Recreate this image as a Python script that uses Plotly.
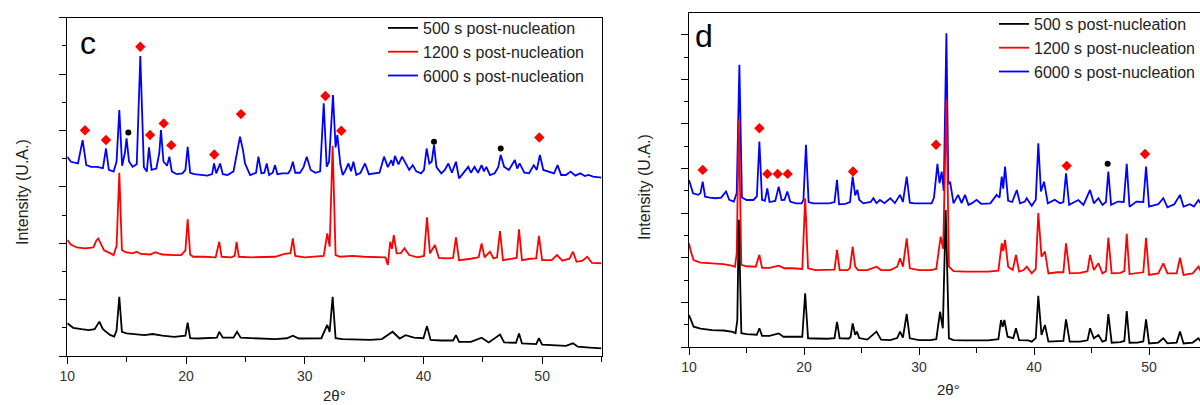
import plotly.graph_objects as go

# ---------------- Panel c data (2θ, intensity in arbitrary units) ----------------
c500_x = [10.0, 10.5, 11.2, 11.8, 12.3, 12.7, 13.0, 13.6, 13.95, 14.15, 14.38, 14.6, 15.0, 15.8, 16.5, 17.2, 18.0, 19.0,
          19.95, 20.14, 20.35, 21.0, 22.0, 22.6, 22.8, 23.1, 24.0, 24.3, 24.6, 25.5, 26.5, 27.5, 28.5, 29.0, 29.5, 30.5,
          31.4, 31.9, 32.1, 32.35, 32.6, 33.2, 34.5, 35.5, 36.5, 37.4, 38.0, 38.5, 39.2, 40.0, 40.3, 40.6, 41.5, 42.5,
          42.74, 43.0, 44.0, 44.9, 45.5, 46.45, 46.8, 47.8, 48.05, 48.3, 49.5, 49.73, 50.0, 51.0, 52.0, 52.6, 53.0,
          54.0, 55.0]
c500_y = [1.16, 1.0, 0.95, 0.92, 0.95, 1.22, 0.95, 0.75, 0.69, 0.9, 2.10, 0.86, 0.80, 0.76, 0.74, 0.78, 0.72, 0.68,
          0.72, 1.18, 0.63, 0.62, 0.63, 0.65, 0.86, 0.65, 0.65, 0.86, 0.65, 0.63, 0.62, 0.60, 0.63, 0.72, 0.62, 0.62,
          0.63, 1.10, 0.85, 2.10, 0.63, 0.60, 0.57, 0.57, 0.60, 0.86, 0.62, 0.74, 0.65, 0.63, 1.06, 0.57, 0.55, 0.55,
          0.74, 0.50, 0.50, 0.65, 0.48, 0.76, 0.48, 0.47, 0.80, 0.45, 0.42, 0.63, 0.40, 0.38, 0.36, 0.45, 0.33,
          0.30, 0.27]

c1200_x = [10.0, 10.3, 10.8, 11.5, 12.2, 12.45, 12.61, 12.8, 13.1, 13.6, 13.9, 14.15, 14.38, 14.6, 14.9, 15.5, 15.85,
           16.2, 17.0, 17.4, 18.0, 19.0, 19.6, 19.95, 20.14, 20.35, 20.6, 21.5, 22.5, 22.8, 23.0, 23.8, 24.1, 24.26,
           24.45, 25.5, 26.5, 27.5, 28.3, 28.8, 29.0, 29.2, 30.0, 31.0, 31.6, 31.9, 32.1, 32.35, 32.6, 33.0, 34.0,
           35.0, 36.0, 36.8, 37.0, 37.2, 37.35, 37.5, 37.75, 38.1, 38.4, 38.8, 39.5, 40.05, 40.3, 40.55, 40.97, 41.3,
           42.0, 42.5, 42.74, 43.0, 44.0, 44.65, 44.9, 45.15, 45.6, 45.9, 46.2, 46.45, 46.7, 47.5, 47.85, 48.05,
           48.3, 49.0, 49.5, 49.73, 50.0, 50.8, 51.25, 51.7, 52.3, 52.6, 52.9, 53.4, 53.8, 54.2, 55.0]
c1200_y = [4.11, 3.95, 3.85, 3.82, 3.85, 4.10, 4.17, 4.00, 3.75, 3.65, 3.58, 3.90, 6.50, 3.76, 3.68, 3.64, 3.70,
           3.62, 3.60, 3.68, 3.60, 3.58, 3.58, 3.75, 4.85, 3.60, 3.52, 3.52, 3.50, 4.05, 3.52, 3.50, 3.55, 4.05,
           3.52, 3.50, 3.52, 3.52, 3.62, 3.65, 4.17, 3.55, 3.50, 3.52, 3.55, 4.35, 3.88, 7.45, 3.58, 3.52, 3.55,
           3.52, 3.52, 3.50, 3.23, 4.05, 3.80, 4.29, 3.64, 3.65, 3.82, 3.58, 3.50, 3.55, 4.92, 3.64, 3.94, 3.48,
           3.46, 3.48, 4.21, 3.40, 3.45, 3.50, 3.99, 3.50, 3.70, 3.46, 3.50, 4.43, 3.40, 3.45, 3.48, 4.49,
           3.40, 3.45, 3.46, 4.26, 3.40, 3.40, 3.58, 3.38, 3.45, 3.70, 3.34, 3.38, 3.52, 3.30, 3.29]

c6000_x = [10.0, 10.3, 10.9, 11.29, 11.6, 12.0, 12.5, 13.0, 13.26, 13.5, 13.9, 14.15, 14.38, 14.62, 14.85, 14.99, 15.2,
           15.5, 15.85, 16.15, 16.45, 16.7, 16.88, 17.1, 17.5, 17.75, 17.89, 18.1, 18.4, 18.6, 18.8, 19.2, 19.7,
           19.95, 20.14, 20.35, 20.7, 21.2, 21.8, 22.2, 22.36, 22.55, 22.87, 23.1, 23.5, 24.0, 24.3, 24.55, 24.8,
           24.97, 25.4, 25.9, 26.1, 26.35, 26.6, 26.8, 27.0, 27.3, 27.5, 27.7, 28.1, 28.6, 28.8, 29.0, 29.2, 29.6,
           29.9, 30.17, 30.5, 30.9, 31.3, 31.6, 31.85, 32.05, 32.38, 32.6, 32.75, 33.0, 33.2, 33.45, 33.68, 33.9,
           34.1, 34.35, 34.7, 35.08, 35.4, 35.8, 36.3, 36.68, 37.0, 37.3, 37.45, 37.6, 37.9, 38.2, 38.5, 38.8, 39.1,
           39.4, 39.8, 40.05, 40.27, 40.5, 40.7, 40.89, 41.1, 41.5, 41.8, 42.1, 42.4, 42.74, 43.0, 43.4, 43.78,
           44.0, 44.3, 44.6, 44.9, 45.1, 45.3, 45.6, 46.0, 46.3, 46.51, 46.8, 47.2, 47.7, 47.9, 48.1, 48.5, 48.9,
           49.3, 49.55, 49.81, 50.1, 50.6, 51.0, 51.3, 51.6, 52.0, 52.4, 52.8, 53.2, 53.6, 53.9, 54.3, 55.0]
c6000_y = [7.07, 6.89, 6.83, 7.66, 6.77, 6.71, 6.71, 6.66, 7.36, 6.60, 6.54, 6.90, 8.72, 6.75, 7.20, 7.72, 6.90,
           6.71, 6.80, 10.64, 6.70, 6.54, 7.40, 6.60, 6.65, 7.20, 8.01, 6.90, 6.75, 7.07, 6.55, 6.45, 6.48,
           6.60, 7.42, 6.50, 6.45, 6.42, 6.40, 6.45, 6.83, 6.48, 6.83, 6.45, 6.42, 6.55, 7.20, 7.78, 7.30,
           6.83, 6.42, 6.50, 7.07, 6.48, 6.50, 6.83, 6.42, 6.50, 6.77, 6.45, 6.48, 6.48, 6.60, 6.89, 6.50, 6.50,
           6.70, 7.07, 6.60, 6.50, 6.55, 8.96, 6.71, 6.90, 9.26, 7.40, 7.84, 6.80, 6.42, 6.60, 6.83, 6.55,
           6.89, 6.42, 6.50, 6.83, 6.45, 6.48, 6.50, 7.07, 6.70, 6.95, 6.75, 7.10, 6.80, 7.07, 6.83, 6.60, 6.77,
           6.55, 6.48, 6.60, 7.36, 6.83, 6.90, 7.48, 6.70, 6.48, 6.60, 6.83, 6.50, 6.89, 6.30, 6.50, 6.71,
           6.50, 6.71, 6.50, 6.77, 6.55, 6.71, 6.42, 6.48, 6.70, 7.13, 6.71, 6.60, 6.95, 6.65, 6.83, 6.50, 6.48,
           6.77, 6.60, 7.13, 6.60, 6.54, 6.48, 6.77, 6.42, 6.42, 6.54, 6.40, 6.48, 6.38, 6.42, 6.36, 6.33]

c_diamond_x = [11.49, 13.26, 16.15, 16.97, 18.12, 18.76, 22.38, 24.63, 31.74, 33.08, 49.76]
c_diamond_y = [8.01, 7.66, 10.97, 7.84, 8.25, 7.48, 7.15, 8.58, 9.22, 7.99, 7.75]
c_dot_x = [15.14, 40.89, 46.51]
c_dot_y = [7.93, 7.60, 7.36]

# ---------------- Panel d data ----------------
d500_x = [10.0, 10.15, 10.4, 11.0, 12.0, 13.0, 13.8, 14.05, 14.2, 14.33, 14.55, 15.0, 15.9, 16.12, 16.35, 17.0, 17.8,
          18.2, 19.0, 19.85, 20.1, 20.35, 21.0, 22.0, 22.65, 22.87, 23.1, 23.9, 24.05, 24.23, 24.45, 24.6, 24.8,
          25.5, 26.3, 26.7, 27.5, 28.1, 28.35, 28.6, 28.93, 29.2, 30.0, 31.0, 31.5, 31.83, 32.07, 32.32, 32.6,
          33.0, 34.0, 35.0, 36.0, 36.9, 37.13, 37.28, 37.42, 37.7, 38.2, 38.43, 38.7, 39.5, 39.8, 40.15, 40.37,
          40.65, 40.95, 41.25, 42.0, 42.55, 42.78, 43.1, 44.0, 44.65, 44.87, 45.2, 45.6, 45.95, 46.25, 46.46,
          46.75, 47.5, 47.85, 48.06, 48.3, 49.0, 49.5, 49.74, 50.0, 50.8, 51.24, 51.6, 52.4, 52.69, 53.0, 53.8,
          54.29, 54.6, 55.0]
d500_y = [1.43, 1.20, 0.91, 0.82, 0.76, 0.74, 0.68, 0.62, 1.20, 5.70, 0.62, 0.58, 0.55, 0.84, 0.50, 0.50, 0.61,
          0.46, 0.45, 0.46, 2.41, 0.39, 0.38, 0.37, 0.40, 1.13, 0.39, 0.38, 0.45, 1.06, 0.55, 0.69, 0.40,
          0.33, 0.69, 0.33, 0.31, 0.40, 0.69, 0.42, 1.48, 0.39, 0.31, 0.31, 0.35, 1.58, 0.84, 6.14, 0.39,
          0.31, 0.30, 0.30, 0.30, 0.35, 1.21, 0.90, 1.21, 0.46, 0.40, 0.84, 0.31, 0.30, 0.24, 0.40, 2.29,
          0.54, 0.99, 0.24, 0.25, 0.27, 1.24, 0.24, 0.24, 0.30, 0.84, 0.39, 0.54, 0.24, 0.30, 1.48,
          0.19, 0.22, 0.27, 1.61, 0.19, 0.20, 0.25, 1.24, 0.16, 0.20, 0.39, 0.16, 0.20, 0.69, 0.16, 0.20,
          0.39, 0.18, 0.15]

d1200_x = [10.0, 10.15, 10.4, 11.0, 12.0, 13.0, 13.7, 14.0, 14.15, 14.33, 14.55, 15.0, 15.8, 16.12, 16.35, 17.0, 17.8,
           18.3, 19.0, 19.85, 20.1, 20.35, 21.0, 22.0, 22.65, 22.87, 23.1, 23.8, 24.0, 24.23, 24.45, 24.7, 25.5,
           26.3, 26.7, 27.5, 28.1, 28.35, 28.6, 28.93, 29.2, 30.0, 31.0, 31.5, 31.88, 32.1, 32.38, 32.6, 33.0,
           34.0, 35.0, 36.0, 36.9, 37.19, 37.32, 37.48, 37.75, 38.15, 38.43, 38.7, 39.1, 39.36, 39.8, 40.15,
           40.37, 40.65, 40.95, 41.25, 42.0, 42.55, 42.78, 43.1, 44.0, 44.65, 44.87, 45.2, 45.6, 45.95, 46.25,
           46.46, 46.75, 47.5, 47.85, 48.06, 48.3, 49.0, 49.5, 49.74, 50.0, 50.8, 51.24, 51.6, 52.4, 52.69,
           53.0, 53.8, 54.29, 54.6, 55.0]
d1200_y = [4.65, 4.30, 3.90, 3.78, 3.75, 3.72, 3.65, 3.60, 4.20, 10.18, 3.68, 3.62, 3.60, 4.13, 3.55, 3.55, 3.65,
           3.53, 3.53, 3.50, 6.67, 3.53, 3.45, 3.45, 3.47, 4.35, 3.45, 3.45, 3.55, 4.50, 3.60, 3.45, 3.45,
           3.60, 3.45, 3.45, 3.60, 3.98, 3.60, 4.87, 3.53, 3.45, 3.45, 3.50, 4.95, 4.40, 11.08, 3.60, 3.40,
           3.38, 3.38, 3.38, 3.42, 4.65, 4.30, 4.80, 3.60, 3.45, 4.13, 3.38, 3.45, 3.60, 3.30, 3.50,
           6.00, 4.05, 4.28, 3.30, 3.35, 3.35, 4.65, 3.30, 3.32, 3.40, 4.13, 3.45, 3.75, 3.30, 3.40,
           4.90, 3.30, 3.32, 3.40, 5.07, 3.27, 3.30, 3.35, 4.90, 3.23, 3.30, 3.75, 3.30, 3.30, 4.00,
           3.23, 3.30, 3.60, 3.30, 3.25]

d6000_x = [10.0, 10.1, 10.35, 10.8, 11.0, 11.19, 11.4, 11.8, 12.3, 12.8, 13.22, 13.5, 13.9, 14.15, 14.38, 14.6, 15.0,
           15.6, 15.9, 16.12, 16.35, 16.6, 16.81, 17.0, 17.5, 17.8, 18.05, 18.3, 18.55, 18.8, 19.3, 19.8, 19.95,
           20.17, 20.4, 20.8, 21.5, 22.2, 22.65, 22.87, 23.05, 23.6, 24.0, 24.23, 24.45, 24.64, 24.8, 25.15,
           25.8, 26.03, 26.3, 26.6, 27.0, 27.5, 27.9, 28.35, 28.6, 28.93, 29.2, 29.6, 30.5, 31.1, 31.3, 31.6,
           31.78, 31.97, 32.15, 32.38, 32.55, 32.7, 33.0, 33.4, 33.7, 34.0, 34.3, 34.6, 35.0, 35.4, 36.2, 36.75,
           37.0, 37.19, 37.32, 37.48, 37.75, 38.1, 38.5, 38.78, 39.2, 39.36, 39.8, 40.15, 40.37, 40.6, 40.87,
           41.2, 41.8, 42.26, 42.55, 42.78, 43.05, 43.85, 44.3, 44.87, 45.2, 45.6, 45.95, 46.25, 46.46, 46.7,
           47.3, 47.8, 48.06, 48.3, 48.9, 49.5, 49.74, 50.0, 50.8, 51.24, 51.6, 52.2, 52.69, 53.0, 53.56, 53.9,
           54.29, 54.6, 55.0]
d6000_y = [7.49, 7.30, 6.89, 6.82, 6.90, 7.41, 6.74, 6.70, 6.67, 6.70, 6.97, 6.60, 6.52, 6.90, 12.65, 6.70, 6.59,
           6.59, 6.75, 9.21, 6.60, 6.55, 7.11, 6.50, 6.55, 7.19, 6.59, 6.60, 6.97, 6.52, 6.44, 6.44, 6.60,
           9.06, 6.50, 6.44, 6.44, 6.44, 6.50, 7.49, 6.40, 6.42, 6.50, 7.64, 6.80, 7.04, 6.60, 6.44,
           6.50, 6.67, 6.45, 6.59, 6.45, 6.67, 6.45, 6.82, 6.50, 7.64, 6.47, 6.44, 6.44, 6.44, 6.70, 8.21,
           7.34, 7.86, 7.00, 14.07, 7.30, 7.41, 6.44, 6.82, 6.45, 6.82, 6.37, 6.45, 6.60, 6.42, 6.44, 6.82,
           6.70, 7.64, 7.10, 8.09, 6.55, 6.50, 7.04, 6.44, 6.52, 6.67, 6.33, 6.60, 9.13, 6.97, 7.41,
           6.44, 6.60, 6.44, 6.50, 7.79, 6.37, 6.59, 6.37, 7.04, 6.44, 6.67, 6.37, 6.50, 7.86, 6.37,
           6.52, 6.50, 8.21, 6.29, 6.52, 6.50, 8.09, 6.29, 6.40, 6.67, 6.26, 6.40, 6.82, 6.29, 6.40, 6.30,
           6.59, 6.35, 6.30]

d_diamond_x = [11.19, 16.12, 16.81, 17.71, 18.58, 24.26, 31.48, 42.84, 49.65]
d_diamond_y = [7.94, 9.81, 7.76, 7.76, 7.76, 7.87, 9.07, 8.12, 8.65]
d_dot_x = [46.40]
d_dot_y = [8.21]

series_names = ["500 s post-nucleation", "1200 s post-nucleation", "6000 s post-nucleation"]
series_colors = ["#000000", "#ff0000", "#0000ff"]

FONT = "Arial, Liberation Sans, sans-serif"
W, H = 1200, 405

fig = go.Figure()

panels = [
    ("x", "y", "legend", [(c500_x, c500_y), (c1200_x, c1200_y), (c6000_x, c6000_y)],
     (c_diamond_x, c_diamond_y), (c_dot_x, c_dot_y)),
    ("x2", "y2", "legend2", [(d500_x, d500_y), (d1200_x, d1200_y), (d6000_x, d6000_y)],
     (d_diamond_x, d_diamond_y), (d_dot_x, d_dot_y)),
]

for xa, ya, leg, series, dia, dot in panels:
    # draw blue first, then red, then black on top
    for i in [2, 1, 0]:
        sx, sy = series[i]
        fig.add_trace(go.Scatter(
            x=sx, y=sy, mode="lines", name=series_names[i],
            line=dict(color=series_colors[i], width=1.8),
            xaxis=xa, yaxis=ya, legend=leg, showlegend=True, hoverinfo="skip"))
    fig.add_trace(go.Scatter(
        x=dia[0], y=dia[1], mode="markers",
        marker=dict(symbol="diamond", size=8, color="#ff0000", line=dict(width=0)),
        xaxis=xa, yaxis=ya, showlegend=False, hoverinfo="skip"))
    fig.add_trace(go.Scatter(
        x=dot[0], y=dot[1], mode="markers",
        marker=dict(symbol="circle", size=6, color="#000000", line=dict(width=0)),
        xaxis=xa, yaxis=ya, showlegend=False, hoverinfo="skip"))


def px_x(p):
    return p / W


def px_y(p):
    return 1 - p / H


xcommon = dict(
    showline=True, linecolor="black", linewidth=1.3, mirror=True,
    ticks="outside", ticklen=7, tickwidth=1.3, tickcolor="black",
    tick0=10, dtick=10, showgrid=False, zeroline=False,
    tickfont=dict(family=FONT, size=14, color="#333333"),
    minor=dict(ticks="outside", ticklen=5, tickwidth=1.3, tickcolor="black", tick0=5, dtick=5, showgrid=False),
)
ycommon = dict(
    showline=True, linecolor="black", linewidth=1.3,
    ticks="outside", ticklen=7, tickwidth=1.3, tickcolor="black",
    tick0=0, dtick=2, showticklabels=False, showgrid=False, zeroline=False,
    minor=dict(ticks="outside", ticklen=4, tickwidth=1.3, tickcolor="black", tick0=1, dtick=2, showgrid=False),
)

legend_font = dict(family=FONT, size=16, color="#222222")

fig.update_layout(
    width=W, height=H,
    margin=dict(l=0, r=0, t=0, b=0, autoexpand=False),
    paper_bgcolor="white", plot_bgcolor="white",
    font=dict(family=FONT, size=16, color="#222222"),
    xaxis=dict(xcommon, domain=[px_x(67.3), px_x(601.5)], range=[10, 55], anchor="y"),
    yaxis=dict(ycommon, domain=[px_y(356), px_y(17.7)], range=[0, 12], anchor="x", mirror=True),
    xaxis2=dict(xcommon, domain=[px_x(689), 1.0], range=[10, 54.43], anchor="y2"),
    yaxis2=dict(ycommon, domain=[px_y(347), px_y(13.3)], range=[0, 14.96], anchor="x2", mirror=False),
    legend=dict(x=px_x(383), y=px_y(11), xanchor="left", yanchor="top", traceorder="reversed",
                bgcolor="rgba(0,0,0,0)", borderwidth=0, font=legend_font),
    legend2=dict(x=px_x(994), y=px_y(7), xanchor="left", yanchor="top", traceorder="reversed",
                 bgcolor="rgba(0,0,0,0)", borderwidth=0, font=legend_font),
    showlegend=True,
)

annos = [
    dict(text="c", x=px_x(88), y=px_y(43), font=dict(size=32, color="black")),
    dict(text="d", x=px_x(704), y=px_y(36), font=dict(size=32, color="black")),
    dict(text="2θ°", x=px_x(334), y=px_y(395), font=dict(size=15, color="#222222")),
    dict(text="2θ°", x=px_x(948), y=px_y(389), font=dict(size=15, color="#222222")),
    dict(text="Intensity (U.A.)", x=px_x(22), y=px_y(192), textangle=-90, font=dict(size=16, color="#222222")),
    dict(text="Intensity (U.A.)", x=px_x(645), y=px_y(187), textangle=-90, font=dict(size=16, color="#222222")),
]
for a in annos:
    fig.add_annotation(xref="paper", yref="paper", xanchor="center", yanchor="middle", showarrow=False,
                       **a)

fig.write_html("out.html")
